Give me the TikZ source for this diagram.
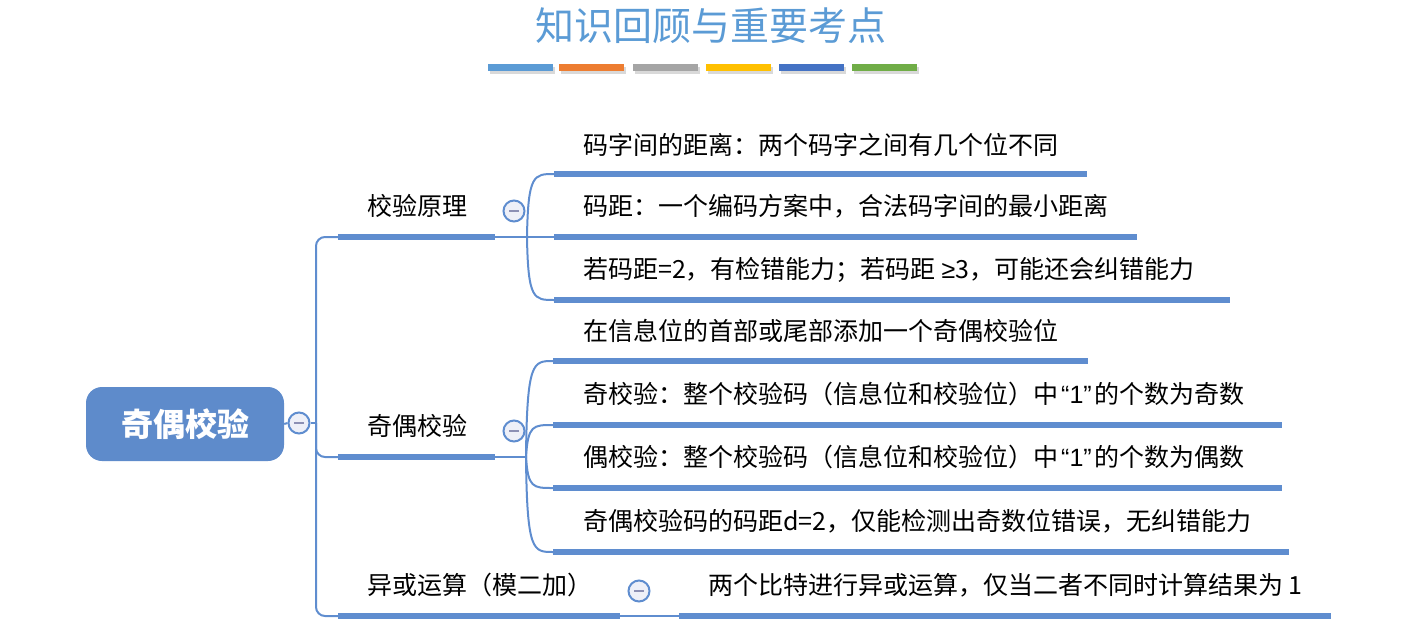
\documentclass[tikz,border=0pt]{standalone}
\usepackage{fontspec}
\newfontfamily\cjk{Noto Sans CJK SC}
\newfontfamily\lat{Liberation Sans}
\definecolor{lineblue}{HTML}{5F8DCF}
\definecolor{rootblue}{HTML}{5E8BCB}
\definecolor{titleblue}{HTML}{5B9BD5}
\definecolor{barA}{HTML}{5B9BD5}
\definecolor{barB}{HTML}{ED7D31}
\definecolor{barC}{HTML}{A5A5A5}
\definecolor{barD}{HTML}{FFC000}
\definecolor{barE}{HTML}{4472C4}
\definecolor{barF}{HTML}{70AD47}
\definecolor{circfill}{HTML}{EEF0F8}
\definecolor{minusgray}{HTML}{8C90B4}
\newcommand{\qone}{{\lat\hspace{3pt}“1”\hspace{3pt}}}
\tikzset{
  txt/.style={anchor=west, inner sep=0pt, font=\cjk\fontsize{25}{29}\selectfont, text height=0.88em, text depth=0.12em},
  ul/.style={draw=lineblue, line width=6.5pt},
  conn/.style={draw=lineblue, line width=2pt},
  toggle/.style={circle, draw=lineblue, line width=2pt, fill=circfill, minimum size=21pt, inner sep=0pt,
    path picture={\draw[minusgray, line width=2pt] ([xshift=-5pt]path picture bounding box.center) -- ([xshift=5pt]path picture bounding box.center);}},
  bar/.style={minimum width=65pt, minimum height=7pt, inner sep=0pt},
}
\begin{document}
\begin{tikzpicture}[x=1pt, y=-1pt]
\useasboundingbox (0,0) rectangle (1420,626);
% title
\node[font=\cjk\fontsize{39}{44}\selectfont, text=titleblue] (title) at (711,26) {知识回顾与重要考点};
% colour bars with shadow
\foreach \c/\x [count=\i] in {barA/520.5, barB/591.5, barC/665.5, barD/738.5, barE/811.5, barF/884.5}{
  \node[bar, fill=black, opacity=0.15] at (\x+1.5,70) {};
  \node[bar, fill=\c] (bar\i) at (\x,67.5) {};
}
% root
\node[fill=rootblue, rounded corners=16pt, minimum width=198pt, minimum height=74pt, text=white,
      font=\cjk\bfseries\fontsize{32}{36}\selectfont] (root) at (185,424) {奇偶校验};
\node[toggle] (rt) at (299,423) {};
\draw[conn] (root.east) -- (rt.west);
% trunk coordinates
\coordinate (tj) at (316,423);
\coordinate (m1s) at (338,237); \coordinate (m1e) at (495,237);
\coordinate (m2s) at (338,457); \coordinate (m2e) at (495,457);
\coordinate (m3s) at (338,616); \coordinate (m3e) at (620,616);
\draw[conn] (rt.east) -- (tj);
\draw[conn, rounded corners=9pt] (tj) -- (316,237) -- (m1s);
\draw[conn, rounded corners=9pt] (tj) -- (316,457) -- (m2s);
\draw[conn, rounded corners=9pt] (tj) -- (316,616) -- (m3s);
% main branches
\draw[ul] (m1s) -- (m1e);
\draw[ul] (m2s) -- (m2e);
\draw[ul] (m3s) -- (m3e);
\node[txt] (m1) at (367,212) {校验原理};
\node[txt] (m2) at (367,432) {奇偶校验};
\node[txt] (m3) at (367,591) {异或运算（模二加）};
\node[toggle] (t1) at (514,211) {};
\node[toggle] (t2) at (514,431) {};
\node[toggle] (t3) at (639,591) {};
% branch 1 children
\coordinate (j1) at (527,237);
\coordinate (a1s) at (554,174); \coordinate (a1e) at (1087,174);
\coordinate (a2s) at (554,237); \coordinate (a2e) at (1137,237);
\coordinate (a3s) at (554,300); \coordinate (a3e) at (1230,300);
\draw[conn] (m1e) -- (j1);
\draw[conn] (j1) .. controls (528,174) and (534,174) .. (a1s);
\draw[conn] (j1) -- (a2s);
\draw[conn] (j1) .. controls (528,300) and (534,300) .. (a3s);
\draw[ul] (a1s) -- (a1e);
\draw[ul] (a2s) -- (a2e);
\draw[ul] (a3s) -- (a3e);
\node[txt] (a1) at (583,151) {码字间的距离：两个码字之间有几个位不同};
\node[txt] (a2) at (583,212) {码距：一个编码方案中，合法码字间的最小距离};
\node[txt] (a3) at (583,275) {若码距=2，有检错能力；若码距 {\lat ≥}3，可能还会纠错能力};
% branch 2 children
\coordinate (j2) at (526,457);
\coordinate (b1s) at (553,361); \coordinate (b1e) at (1088,361);
\coordinate (b2s) at (553,425); \coordinate (b2e) at (1282,425);
\coordinate (b3s) at (553,488); \coordinate (b3e) at (1282,488);
\coordinate (b4s) at (553,552); \coordinate (b4e) at (1289,552);
\draw[conn] (m2e) -- (j2);
\draw[conn] (j2) .. controls (527,361) and (533,361) .. (b1s);
\draw[conn] (j2) .. controls (528,425) and (533,425) .. (b2s);
\draw[conn] (j2) .. controls (528,488) and (533,488) .. (b3s);
\draw[conn] (j2) .. controls (527,552) and (533,552) .. (b4s);
\draw[ul] (b1s) -- (b1e);
\draw[ul] (b2s) -- (b2e);
\draw[ul] (b3s) -- (b3e);
\draw[ul] (b4s) -- (b4e);
\node[txt] (b1) at (583,337) {在信息位的首部或尾部添加一个奇偶校验位};
\node[txt] (b2) at (583,400) {奇校验：整个校验码（信息位和校验位）中\qone 的个数为奇数};
\node[txt] (b3) at (583,463) {偶校验：整个校验码（信息位和校验位）中\qone 的个数为偶数};
\node[txt] (b4) at (583,527) {奇偶校验码的码距d=2，仅能检测出奇数位错误，无纠错能力};
% branch 3 child
\coordinate (c1s) at (679,616); \coordinate (c1e) at (1331,616);
\draw[conn] (m3e) -- (c1s);
\draw[ul] (c1s) -- (c1e);
\node[txt] (c1) at (708,591) {两个比特进行异或运算，仅当二者不同时计算结果为 1};
\end{tikzpicture}
\end{document}
